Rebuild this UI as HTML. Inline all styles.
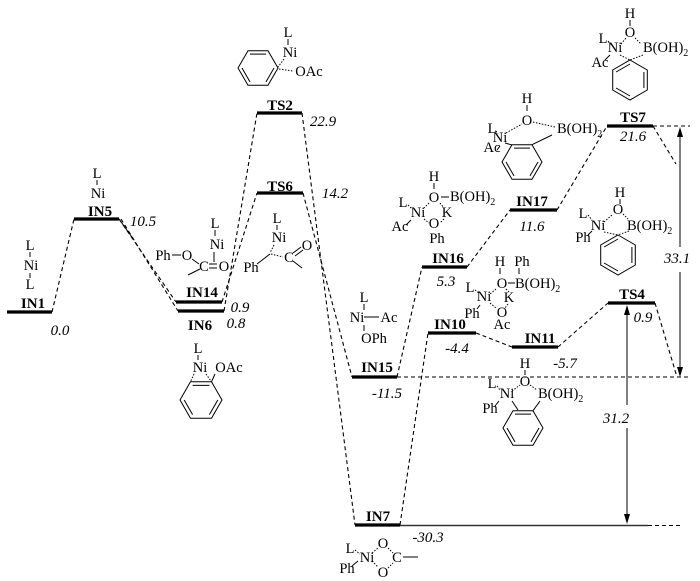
<!DOCTYPE html>
<html><head><meta charset="utf-8"><style>
html,body{margin:0;padding:0;background:#fff;}
svg{display:block;}
text{font-family:"Liberation Serif",serif;fill:#000;}
.s{font-size:14.5px;}
.lb{font-size:15px;font-weight:bold;}
.n{font-size:15px;font-style:italic;}
.d{stroke:#000;stroke-width:1.1;stroke-dasharray:4,3;fill:none;}
.b{stroke:#000;stroke-width:3.2;}
.l{stroke:#000;stroke-width:1;fill:none;}
.dt{stroke:#000;stroke-width:1;stroke-dasharray:1.5,1.5;fill:none;}
</style></head><body>
<svg width="700" height="581" viewBox="0 0 700 581" xmlns="http://www.w3.org/2000/svg">
<!-- connectors -->
<line class="d" x1="52" y1="312" x2="74" y2="219"/>
<line class="l" x1="119" y1="219" x2="134" y2="240"/>
<line class="d" x1="119" y1="219" x2="176" y2="302"/>
<line class="d" x1="121" y1="219" x2="178" y2="311"/>
<line class="d" x1="222" y1="302" x2="257" y2="193"/>
<line class="d" x1="224" y1="311" x2="257" y2="113"/>
<line class="d" x1="302" y1="113" x2="355" y2="525"/>
<line class="d" x1="303" y1="193" x2="352" y2="377"/>
<line class="d" x1="397" y1="377" x2="422" y2="267"/>
<line class="d" x1="400" y1="525" x2="428" y2="333"/>
<line class="d" x1="467" y1="267" x2="510" y2="210"/>
<line class="d" x1="476" y1="333" x2="512" y2="347"/>
<line class="d" x1="557" y1="210" x2="607" y2="126"/>
<line class="d" x1="558" y1="347" x2="608" y2="303"/>
<line class="d" x1="655" y1="303" x2="677" y2="377"/>
<line class="d" x1="653" y1="126" x2="676" y2="164"/>
<line class="d" x1="397" y1="377" x2="690" y2="377"/>
<line class="d" x1="653" y1="126" x2="690" y2="126"/>
<line x1="400" y1="525.5" x2="648" y2="525.5" stroke="#333" stroke-width="1.6"/>
<line class="d" x1="648" y1="525.5" x2="680" y2="525.5" stroke-width="1.4"/>

<!-- bars -->
<line class="b" x1="7" y1="312" x2="52" y2="312"/>
<line class="b" x1="74" y1="219" x2="119" y2="219"/>
<line class="b" x1="176" y1="302" x2="222" y2="302"/>
<line class="b" x1="178" y1="311" x2="224" y2="311"/>
<line class="b" x1="257" y1="113" x2="302" y2="113"/>
<line class="b" x1="257" y1="193" x2="303" y2="193"/>
<line class="b" x1="352" y1="377" x2="397" y2="377"/>
<line class="b" x1="355" y1="525" x2="400" y2="525"/>
<line class="b" x1="428" y1="333" x2="476" y2="333"/>
<line class="b" x1="422" y1="267" x2="467" y2="267"/>
<line class="b" x1="512" y1="347" x2="558" y2="347"/>
<line class="b" x1="510" y1="210" x2="557" y2="210"/>
<line class="b" x1="607" y1="126" x2="653" y2="126"/>
<line class="b" x1="608" y1="303" x2="655" y2="303"/>

<!-- arrows -->
<line class="l" x1="627" y1="310" x2="627" y2="405"/>
<line class="l" x1="627" y1="428" x2="627" y2="518"/>
<polygon points="627,305 624,315 630,315"/>
<polygon points="627,524 624,514 630,514"/>
<line class="l" x1="680" y1="132" x2="680" y2="247"/>
<line class="l" x1="680" y1="272" x2="680" y2="371"/>
<polygon points="680,127 677,137 683,137"/>
<polygon points="680,377 677,367 683,367"/>

<!-- labels -->
<text class="lb" x="33" y="308" text-anchor="middle">IN1</text>
<text class="lb" x="100" y="216" text-anchor="middle">IN5</text>
<text class="lb" x="202" y="297" text-anchor="middle">IN14</text>
<text class="lb" x="200" y="330" text-anchor="middle">IN6</text>
<text class="lb" x="280" y="110" text-anchor="middle">TS2</text>
<text class="lb" x="280" y="191" text-anchor="middle">TS6</text>
<text class="lb" x="377" y="372" text-anchor="middle">IN15</text>
<text class="lb" x="448" y="263" text-anchor="middle">IN16</text>
<text class="lb" x="450" y="329" text-anchor="middle">IN10</text>
<text class="lb" x="540" y="343" text-anchor="middle">IN11</text>
<text class="lb" x="532" y="206" text-anchor="middle">IN17</text>
<text class="lb" x="633" y="122" text-anchor="middle">TS7</text>
<text class="lb" x="632" y="299" text-anchor="middle">TS4</text>
<text class="lb" x="378" y="521" text-anchor="middle">IN7</text>

<!-- energies -->
<text class="n" x="60" y="335" text-anchor="middle">0.0</text>
<text class="n" x="143" y="226" text-anchor="middle">10.5</text>
<text class="n" x="240" y="312" text-anchor="middle">0.9</text>
<text class="n" x="236" y="328" text-anchor="middle">0.8</text>
<text class="n" x="323" y="126" text-anchor="middle">22.9</text>
<text class="n" x="335" y="198" text-anchor="middle">14.2</text>
<text class="n" x="387" y="398" text-anchor="middle">-11.5</text>
<text class="n" x="446" y="286" text-anchor="middle">5.3</text>
<text class="n" x="457" y="353" text-anchor="middle">-4.4</text>
<text class="n" x="565" y="368" text-anchor="middle">-5.7</text>
<text class="n" x="532" y="231" text-anchor="middle">11.6</text>
<text class="n" x="633" y="141" text-anchor="middle">21.6</text>
<text class="n" x="643" y="322" text-anchor="middle">0.9</text>
<text class="n" x="428" y="542" text-anchor="middle">-30.3</text>
<text class="n" x="616" y="423" text-anchor="middle">31.2</text>
<text class="n" x="677" y="263" text-anchor="middle">33.1</text>

<!-- IN1 structure -->
<text class="s" x="30" y="250" text-anchor="middle">L</text>
<line class="l" x1="30" y1="252" x2="30" y2="257"/>
<text class="s" x="31" y="270" text-anchor="middle">Ni</text>
<line class="l" x1="30" y1="273" x2="30" y2="278"/>
<text class="s" x="30" y="289" text-anchor="middle">L</text>

<!-- IN5 structure -->
<text class="s" x="97" y="178" text-anchor="middle">L</text>
<line class="l" x1="97" y1="180" x2="97" y2="185"/>
<text class="s" x="98" y="198" text-anchor="middle">Ni</text>

<!-- IN14 structure -->
<text class="s" x="163" y="260" text-anchor="middle">Ph</text>
<line class="l" x1="172" y1="255" x2="181" y2="255"/>
<text class="s" x="187" y="260" text-anchor="middle">O</text>
<line class="l" x1="192" y1="259" x2="199" y2="264"/>
<text class="s" x="204" y="271" text-anchor="middle">C</text>
<line class="l" x1="209" y1="264" x2="217" y2="264"/>
<line class="l" x1="209" y1="268" x2="217" y2="268"/>
<text class="s" x="224" y="271" text-anchor="middle">O</text>
<text class="s" x="215" y="228" text-anchor="middle">L</text>
<line class="l" x1="215" y1="230" x2="215" y2="236"/>
<text class="s" x="217" y="249" text-anchor="middle">Ni</text>
<line class="l" x1="214" y1="252" x2="214" y2="262"/>
<line class="l" x1="188" y1="275" x2="200" y2="269"/>

<!-- IN6 structure -->
<text class="s" x="198" y="353" text-anchor="middle">L</text>
<line class="l" x1="198" y1="355" x2="198" y2="360"/>
<text class="s" x="200" y="372" text-anchor="middle">Ni</text>
<text class="s" x="229" y="372" text-anchor="middle">OAc</text>
<line class="dt" x1="194" y1="374" x2="190.5" y2="381.8"/>
<line class="dt" x1="206" y1="374" x2="211.5" y2="381.8"/>
<line class="l" x1="215" y1="374" x2="211.5" y2="381.8"/>
<polygon class="l" points="222,400 211.5,381.8 190.5,381.8 180,400 190.5,418.2 211.5,418.2"/>
<line class="l" x1="192.6" y1="385.4" x2="209.4" y2="385.4"/>
<line class="l" x1="184.2" y1="400" x2="192.6" y2="414.6"/>
<line class="l" x1="217.8" y1="400" x2="209.4" y2="414.6"/>

<!-- TS2 structure -->
<text class="s" x="288" y="37" text-anchor="middle">L</text>
<line class="l" x1="288" y1="39" x2="288" y2="45"/>
<text class="s" x="290" y="57" text-anchor="middle">Ni</text>
<text class="s" x="309" y="76" text-anchor="middle">OAc</text>
<line class="dt" x1="284" y1="59" x2="278" y2="67"/>
<line class="dt" x1="279" y1="69" x2="293" y2="71"/>
<polygon class="l" points="278,68 268,50.7 248,50.7 238,68 248,85.3 268,85.3"/>
<line class="l" x1="250" y1="54.1" x2="266" y2="54.1"/>
<line class="l" x1="242" y1="68" x2="250" y2="81.9"/>
<line class="l" x1="274" y1="68" x2="266" y2="81.9"/>

<!-- TS6 structure -->
<text class="s" x="277" y="223" text-anchor="middle">L</text>
<line class="l" x1="277" y1="225" x2="277" y2="230"/>
<text class="s" x="279" y="242" text-anchor="middle">Ni</text>
<text class="s" x="307" y="250" text-anchor="middle">O</text>
<text class="s" x="289" y="262" text-anchor="middle">C</text>
<text class="s" x="251" y="272" text-anchor="middle">Ph</text>
<line class="l" x1="257" y1="264" x2="270" y2="254"/>
<line class="dt" x1="274" y1="245" x2="270" y2="253"/>
<line class="dt" x1="271" y1="254" x2="283" y2="257"/>
<line class="l" x1="293" y1="253" x2="301" y2="247"/>
<line class="l" x1="295" y1="256" x2="303" y2="250"/>
<line class="l" x1="293" y1="261" x2="302" y2="268"/>

<!-- IN15 structure -->
<text class="s" x="364" y="302" text-anchor="middle">L</text>
<line class="l" x1="364" y1="304" x2="364" y2="310"/>
<text class="s" x="357" y="322" text-anchor="middle">Ni</text>
<line class="l" x1="364" y1="317" x2="379" y2="317"/>
<text class="s" x="389" y="322" text-anchor="middle">Ac</text>
<line class="l" x1="364" y1="325" x2="364" y2="331"/>
<text class="s" x="374" y="343" text-anchor="middle">OPh</text>

<!-- IN16 structure -->
<text class="s" x="434" y="181" text-anchor="middle">H</text>
<line class="l" x1="434" y1="183" x2="434" y2="189"/>
<text class="s" x="434" y="202" text-anchor="middle">O</text>
<line class="l" x1="441" y1="197" x2="449" y2="197"/>
<text class="s" x="450" y="201">B(OH)<tspan font-size="10" dy="4">2</tspan></text>
<text class="s" x="403" y="207" text-anchor="middle">L</text>
<text class="s" x="418" y="217" text-anchor="middle">Ni</text>
<text class="s" x="447" y="217" text-anchor="middle">K</text>
<text class="s" x="400" y="231" text-anchor="middle">Ac</text>
<text class="s" x="434" y="228" text-anchor="middle">O</text>
<text class="s" x="437" y="243" text-anchor="middle">Ph</text>
<line class="dt" x1="408" y1="205" x2="412" y2="209"/>
<line class="dt" x1="429" y1="203" x2="424" y2="208"/>
<line class="dt" x1="440" y1="203" x2="444" y2="208"/>
<line class="dt" x1="424" y1="219" x2="429" y2="223"/>
<line class="dt" x1="444" y1="219" x2="440" y2="223"/>
<line class="l" x1="406" y1="225" x2="411" y2="220"/>

<!-- IN10 structure -->
<text class="s" x="500" y="266" text-anchor="middle">H</text>
<text class="s" x="522" y="266" text-anchor="middle">Ph</text>
<line class="l" x1="500" y1="268" x2="500" y2="274"/>
<line class="l" x1="519" y1="268" x2="519" y2="274"/>
<text class="s" x="502" y="288" text-anchor="middle">O</text>
<line class="l" x1="508" y1="283" x2="515" y2="283"/>
<text class="s" x="515" y="288">B(OH)<tspan font-size="10" dy="4">2</tspan></text>
<text class="s" x="470" y="292" text-anchor="middle">L</text>
<text class="s" x="484" y="301" text-anchor="middle">Ni</text>
<text class="s" x="509" y="302" text-anchor="middle">K</text>
<text class="s" x="472" y="318" text-anchor="middle">Ph</text>
<text class="s" x="502" y="317" text-anchor="middle">O</text>
<text class="s" x="502" y="329" text-anchor="middle">Ac</text>
<line class="dt" x1="475" y1="290" x2="479" y2="293"/>
<line class="dt" x1="496" y1="289" x2="490" y2="294"/>
<line class="dt" x1="506" y1="289" x2="509" y2="292"/>
<line class="dt" x1="490" y1="303" x2="496" y2="308"/>
<line class="dt" x1="508" y1="304" x2="505" y2="308"/>
<line class="l" x1="477" y1="309" x2="480" y2="305"/>

<!-- TS4 structure -->
<text class="s" x="620" y="197" text-anchor="middle">H</text>
<line class="l" x1="620" y1="199" x2="620" y2="204"/>
<text class="s" x="618" y="214" text-anchor="middle">O</text>
<text class="s" x="583" y="218" text-anchor="middle">L</text>
<text class="s" x="598" y="230" text-anchor="middle">Ni</text>
<text class="s" x="627" y="230">B(OH)<tspan font-size="10" dy="4">2</tspan></text>
<text class="s" x="583" y="242" text-anchor="middle">Ph</text>
<line class="dt" x1="588" y1="215" x2="592" y2="220"/>
<line class="dt" x1="604" y1="222" x2="612" y2="215"/>
<line class="dt" x1="623" y1="214" x2="628" y2="219"/>
<line class="dt" x1="604" y1="232" x2="618" y2="235"/>
<line class="dt" x1="629" y1="231" x2="618" y2="235"/>
<line class="l" x1="588" y1="235" x2="592" y2="231"/>
<polygon class="l" points="618,235 635.3,245 635.3,265 618,275 600.7,265 600.7,245"/>
<line class="l" x1="631.9" y1="247" x2="631.9" y2="263"/>
<line class="l" x1="618" y1="271" x2="604.1" y2="263"/>
<line class="l" x1="604.1" y1="247" x2="618" y2="239"/>

<!-- TS7 structure -->
<text class="s" x="630" y="18" text-anchor="middle">H</text>
<line class="l" x1="630" y1="20" x2="630" y2="26"/>
<text class="s" x="630" y="37" text-anchor="middle">O</text>
<text class="s" x="603" y="43" text-anchor="middle">L</text>
<text class="s" x="615" y="52" text-anchor="middle">Ni</text>
<text class="s" x="643" y="52">B(OH)<tspan font-size="10" dy="4">2</tspan></text>
<text class="s" x="600" y="67" text-anchor="middle">Ac</text>
<line class="dt" x1="608" y1="41" x2="611" y2="45"/>
<line class="dt" x1="621" y1="44" x2="626" y2="38"/>
<line class="dt" x1="635" y1="38" x2="641" y2="44"/>
<line class="dt" x1="620" y1="55" x2="630" y2="60"/>
<line class="dt" x1="643" y1="55" x2="630" y2="60"/>
<line class="l" x1="605" y1="60" x2="610" y2="55"/>
<polygon class="l" points="630,60 647.3,70 647.3,90 630,100 612.7,90 612.7,70"/>
<line class="l" x1="643.9" y1="72" x2="643.9" y2="88"/>
<line class="l" x1="630" y1="96" x2="616.1" y2="88"/>
<line class="l" x1="616.1" y1="72" x2="630" y2="64"/>

<!-- IN17 structure -->
<text class="s" x="527" y="103" text-anchor="middle">H</text>
<line class="l" x1="527" y1="105" x2="527" y2="111"/>
<text class="s" x="527" y="125" text-anchor="middle">O</text>
<text class="s" x="492" y="133" text-anchor="middle">L</text>
<text class="s" x="500" y="142" text-anchor="middle">Ni</text>
<text class="s" x="557" y="133">B(OH)<tspan font-size="10" dy="4">2</tspan></text>
<text class="s" x="492" y="152" text-anchor="middle">Ac</text>
<line class="dt" x1="496" y1="131" x2="498" y2="134"/>
<line class="dt" x1="506" y1="133" x2="522" y2="124"/>
<line class="dt" x1="533" y1="122" x2="555" y2="127"/>
<line class="l" x1="497" y1="150" x2="500" y2="146"/>
<line class="l" x1="505" y1="143" x2="512" y2="145"/>
<line class="l" x1="552" y1="135" x2="532" y2="144.7"/>
<polygon class="l" points="542,162 532,144.7 512,144.7 502,162 512,179.3 532,179.3"/>
<line class="l" x1="514" y1="148.1" x2="530" y2="148.1"/>
<line class="l" x1="506" y1="162" x2="514" y2="175.9"/>
<line class="l" x1="538" y1="162" x2="530" y2="175.9"/>

<!-- IN11 structure -->
<text class="s" x="525" y="368" text-anchor="middle">H</text>
<line class="l" x1="525" y1="370" x2="525" y2="375"/>
<text class="s" x="525" y="386" text-anchor="middle">O</text>
<text class="s" x="492" y="388" text-anchor="middle">L</text>
<text class="s" x="507" y="398" text-anchor="middle">Ni</text>
<text class="s" x="538" y="398">B(OH)<tspan font-size="10" dy="4">2</tspan></text>
<text class="s" x="490" y="413" text-anchor="middle">Ph</text>
<line class="dt" x1="497" y1="386" x2="500" y2="390"/>
<line class="dt" x1="512" y1="391" x2="520" y2="385"/>
<line class="dt" x1="530" y1="385" x2="537" y2="390"/>
<line class="l" x1="495" y1="406" x2="499" y2="401"/>
<line class="l" x1="512" y1="401" x2="518" y2="410"/>
<line class="l" x1="540" y1="401" x2="533" y2="410.7"/>
<polygon class="l" points="543,428 533,410.7 513,410.7 503,428 513,445.3 533,445.3"/>
<line class="l" x1="515" y1="414.1" x2="531" y2="414.1"/>
<line class="l" x1="507" y1="428" x2="515" y2="441.9"/>
<line class="l" x1="539" y1="428" x2="531" y2="441.9"/>

<!-- IN7 structure -->
<text class="s" x="350" y="553" text-anchor="middle">L</text>
<text class="s" x="367" y="562" text-anchor="middle">Ni</text>
<text class="s" x="347" y="573" text-anchor="middle">Ph</text>
<text class="s" x="383" y="548" text-anchor="middle">O</text>
<text class="s" x="383" y="577" text-anchor="middle">O</text>
<text class="s" x="397" y="562" text-anchor="middle">C</text>
<line class="l" x1="403" y1="557" x2="418" y2="557"/>
<line class="dt" x1="355" y1="550" x2="360" y2="554"/>
<line class="dt" x1="372" y1="553" x2="378" y2="548"/>
<line class="dt" x1="372" y1="561" x2="378" y2="567"/>
<line class="dt" x1="388" y1="548" x2="393" y2="553"/>
<line class="dt" x1="388" y1="568" x2="393" y2="563"/>
<line class="l" x1="352" y1="566" x2="358" y2="561"/>
</svg>
</body></html>
